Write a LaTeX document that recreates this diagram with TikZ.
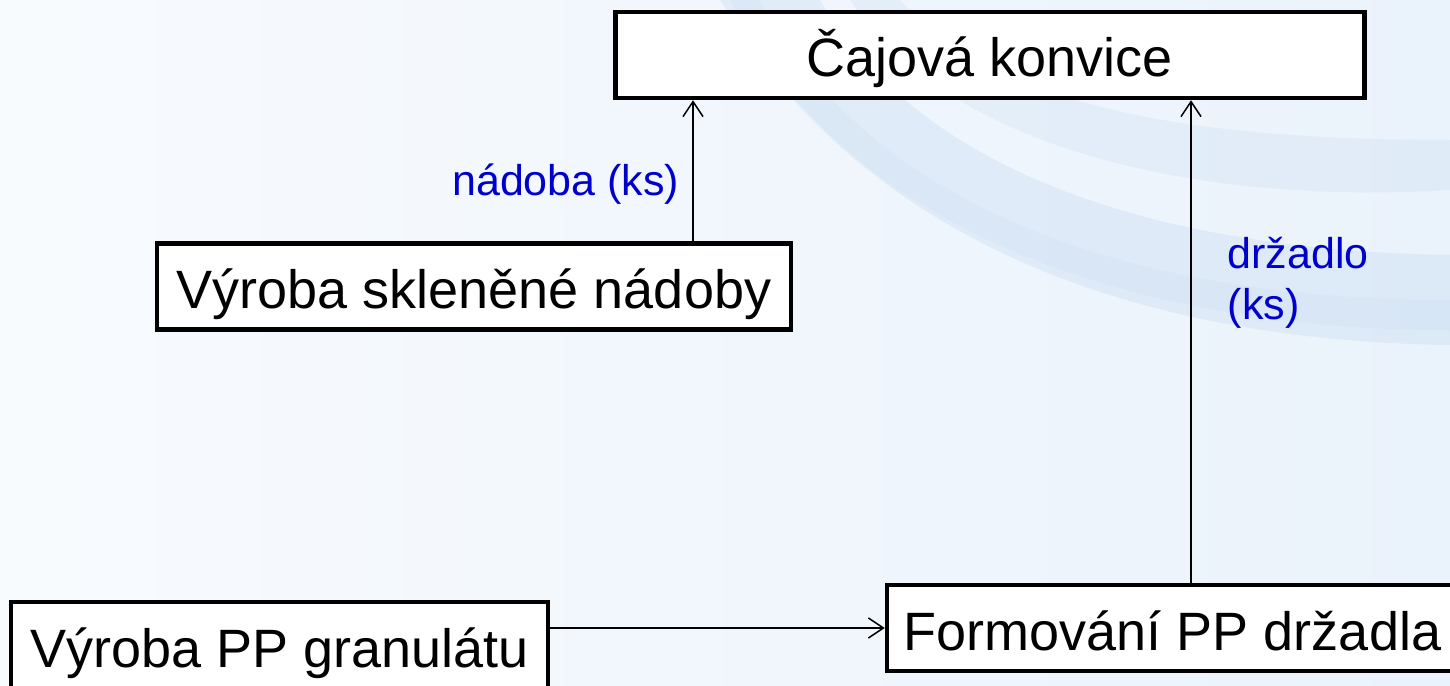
\documentclass[tikz,border=0pt]{standalone}
\usepackage{fontspec}
\setmainfont{Liberation Sans}
\usetikzlibrary{arrows.meta}
\definecolor{flowblue}{RGB}{0,0,204}
\definecolor{bgleft}{RGB}{248,251,254}
\definecolor{bgright}{RGB}{234,242,251}
\definecolor{swoosh}{RGB}{196,218,242}
\tikzset{pbox/.style={draw,line width=4.5pt,fill=white,inner sep=0pt,minimum height=86pt,
		text height=55pt,text depth=11pt,font=\fontsize{54}{64}\selectfont},
	 flabel/.style={text=flowblue,align=left,inner sep=0pt,font=\fontsize{43}{51}\selectfont},
	 flow/.style={line width=1.5pt,-{Straight Barb[length=15pt,width=20pt]}},
	 x=1pt, y=-1pt
	 }

\begin{document}
\begin{tikzpicture} % teapot production chain
	\useasboundingbox (0,0) rectangle (1450,685);
	\clip (0,0) rectangle (1450,685);
	% background
	\fill[left color=bgleft,right color=bgright] (0,0) rectangle (1450,685);
	\fill[swoosh,fill opacity=0.25] (900,0) .. controls (1000,110) and (1200,140) .. (1450,140)
		-- (1450,190) .. controls (1200,205) and (950,150) .. (850,0) -- cycle;
	\fill[swoosh,fill opacity=0.35] (820,0) .. controls (920,170) and (1150,250) .. (1450,255)
		-- (1450,345) .. controls (1100,340) and (850,220) .. (720,0) -- cycle;
	\fill[swoosh,fill opacity=0.2] (760,0) .. controls (860,190) and (1100,300) .. (1450,300)
		-- (1450,330) .. controls (1100,330) and (830,210) .. (730,0) -- cycle;
	% boxes
	\node[pbox,minimum width=749pt] (konvice) at (990,55) {Čajová konvice};
	\node[pbox,minimum width=634pt] (sklo) at (474,286.5) {Výroba skleněné nádoby};
	\node[pbox,minimum width=537pt] (granulat) at (279.5,645) {Výroba PP granulátu};
	\node[pbox,minimum width=571pt] (drzadlo) at (1172.5,628) {Formování PP držadla};
	% flows
	\draw[flow] ([xshift=219pt]sklo.north) coordinate (s1) -- (s1 |- konvice.south)
		node[flabel,pos=0.407,left=13pt] {nádoba (ks)};
	\draw[flow] ([xshift=18.5pt]drzadlo.north) coordinate (d1) -- (d1 |- konvice.south)
		node[flabel,pos=0.621,right=36pt] {držadlo\\(ks)};
	\draw[flow] (granulat.east |- drzadlo.west) -- (drzadlo.west);
\end{tikzpicture}
\end{document}
